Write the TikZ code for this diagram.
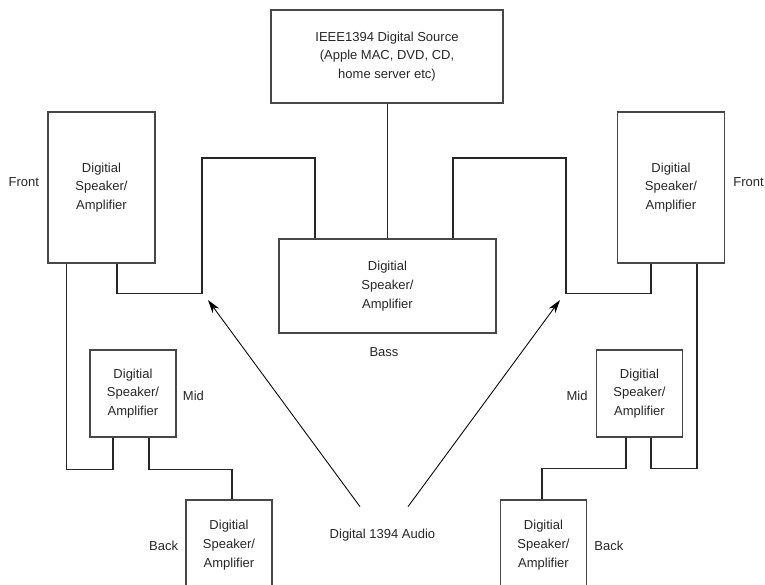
\documentclass[tikz,border=0pt]{standalone}
\usepackage{fontspec}
\setmainfont{Liberation Sans}
\usepackage{tikz}
\usetikzlibrary{calc, positioning, arrows.meta}

\begin{document}
\begin{tikzpicture}[>={Stealth[length=10pt,width=6pt,inset=3pt]},
    x=0.75pt, y=-0.75pt,
    unit/.style={draw=black!72, line width=1pt, align=center, inner sep=0pt,
        text=black!85, font=\fontsize{9.75}{14}\selectfont},
    tag/.style={inner sep=0pt, text=black!85, font=\fontsize{9.75}{14}\selectfont},
    wire/.style={line width=0.85pt, draw=black!85},
    feed/.style={->, line width=0.65pt}]

    % khung trang
    \useasboundingbox (0,0) rectangle (765,585);

    % =================================================================
    % 1. CÁC KHỐI THIẾT BỊ
    % =================================================================
    % Nguồn số ở trên cùng
    \node[unit, minimum width=174pt, minimum height=69.75pt] (Src) at (387,56.5)
        {IEEE1394 Digital Source\\(Apple MAC, DVD, CD,\\home server etc)};

    % Loa trầm ở giữa
    \node[unit, minimum width=162.75pt, minimum height=70.5pt] (Bass) at (387.5,286)
        {Digitial\\Speaker/\\Amplifier};

    % Loa trước trái / phải
    \node[unit, minimum width=80.25pt, minimum height=113.25pt] (FL) at (101.5,187.5)
        {Digitial\\Speaker/\\Amplifier};
    \node[unit, minimum width=80.25pt, minimum height=113.25pt] (FR) at (671,187.5)
        {Digitial\\Speaker/\\Amplifier};

    % Loa giữa trái / phải
    \node[unit, minimum width=64.5pt, minimum height=65.25pt] (ML) at (133,393.5)
        {Digitial\\Speaker/\\Amplifier};
    \node[unit, minimum width=64.5pt, minimum height=65.25pt] (MR) at (639.5,393.5)
        {Digitial\\Speaker/\\Amplifier};

    % Loa sau trái / phải (bị cắt ở mép dưới)
    \node[unit, minimum width=64.5pt, minimum height=67.5pt] (BL) at (229,545)
        {Digitial\\Speaker/\\Amplifier};
    \node[unit, minimum width=64.5pt, minimum height=67.5pt] (BR) at (543.5,545)
        {Digitial\\Speaker/\\Amplifier};

    % =================================================================
    % 2. NHÃN VỊ TRÍ
    % =================================================================
    \node[tag, anchor=east] (tFL) at ($(FL.west)+(-8,-5)$) {Front};
    \node[tag, anchor=west] (tFR) at ($(FR.east)+(8,-5)$) {Front};
    \node[tag, anchor=west] (tML) at ($(ML.east)+(6,2.5)$) {Mid};
    \node[tag, anchor=east] (tMR) at ($(MR.west)+(-8,2.5)$) {Mid};
    \node[tag, anchor=east] (tBL) at ($(BL.west)+(-7,1)$) {Back};
    \node[tag, anchor=west] (tBR) at ($(BR.east)+(7,1)$) {Back};
    \node[tag] (tBass) at (384,352) {Bass};
    \node[tag] (Audio) at (382.5,535) {Digital 1394 Audio};

    % =================================================================
    % 3. DÂY NỐI
    % =================================================================
    % Nguồn xuống loa trầm
    \draw[wire] (Src.south -| Bass.north) -- (Bass.north);

    % Nhánh trái
    \draw[wire] ($(FL.south)+(15.5,0)$) -- ++(0,30) -| (202,158)
        -| ($(Bass.north)+(-72.5,0)$);
    \draw[wire] ($(FL.south)+(-35,0)$) -- ++(0,206) -| ($(ML.south)+(-20,0)$);
    \draw[wire] ($(ML.south)+(16,0)$) -- ++(0,32) -| ($(BL.north)+(3,0)$);

    % Nhánh phải
    \draw[wire] ($(FR.south)+(-20,0)$) -- ++(0,30) -| (566,158)
        -| ($(Bass.north)+(65.5,0)$);
    \draw[wire] ($(FR.south)+(26,0)$) -- ++(0,205) -| ($(MR.south)+(11.5,0)$);
    \draw[wire] ($(MR.south)+(-13.5,0)$) -- ++(0,31) -| ($(BR.north)+(-1.5,0)$);

    % =================================================================
    % 4. MŨI TÊN TÍN HIỆU ÂM THANH
    % =================================================================
    \coordinate (TipL) at (208,300);
    \coordinate (TipR) at (560,300);
    \draw[feed] ($(Audio.north)+(-22.5,-22)$) -- (TipL);
    \draw[feed] ($(Audio.north)+(25.5,-22)$) -- (TipR);

\end{tikzpicture}
\end{document}
